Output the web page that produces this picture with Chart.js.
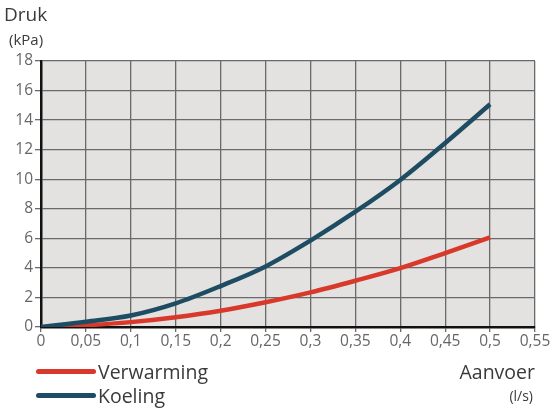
<!DOCTYPE html>
<html>
<head>
<meta charset="utf-8">
<script src="https://cdn.jsdelivr.net/npm/chart.js@4"></script>
<style>
  html, body { margin: 0; padding: 0; background: #fff; }
  #wrap { position: relative; width: 554px; height: 410px; font-family: "Open Sans", sans-serif; color: #3a3a3a; }
  canvas { position: absolute; left: 0; top: 0; }
  .lbl { position: absolute; white-space: nowrap; line-height: 1; }
  .legend-item { position: absolute; left: 36px; font-size: 19.5px; line-height: 1; display: flex; align-items: center; }
  .legend-item span.sw { display: inline-block; width: 60px; height: 5px; border-radius: 3px; margin-right: 2px; }
</style>
</head>
<body>
<div id="wrap">
  <canvas id="chart" width="554" height="410"></canvas>
  <div class="lbl" style="left:4px; top:5px; font-size:19px;">Druk</div>
  <div class="lbl" style="left:9px; top:32px; font-size:15px;">(kPa)</div>
  <div class="lbl" style="right:19px; top:362px; font-size:19.5px;">Aanvoer</div>
  <div class="lbl" style="right:21px; top:389px; font-size:14px;">(l/s)</div>
  <div class="legend-item" style="top:362px;"><span class="sw" style="background:#d8392b"></span>Verwarming</div>
  <div class="legend-item" style="top:386px;"><span class="sw" style="background:#1e4d63"></span>Koeling</div>
</div>
<script>
// flow rate (l/s) and pressure drop (kPa)
const aanvoer = [0, 0.05, 0.1, 0.15, 0.2, 0.25, 0.3, 0.35, 0.4, 0.45, 0.5];
const verwarming = [0, 0.12, 0.33, 0.66, 1.1, 1.67, 2.34, 3.13, 3.98, 5.0, 6.06];
const koeling = [0, 0.36, 0.78, 1.6, 2.77, 4.1, 5.85, 7.8, 9.95, 12.45, 15.07];
const xTicks = [0, 0.05, 0.1, 0.15, 0.2, 0.25, 0.3, 0.35, 0.4, 0.45, 0.5, 0.55];
const yTicks = [0, 2, 4, 6, 8, 10, 12, 14, 16, 18];

const toPoints = (vals) => vals.map((v, i) => ({ x: aanvoer[i], y: v }));

const plotBg = {
  id: 'plotBg',
  beforeDraw(chart) {
    const { ctx, chartArea: a } = chart;
    ctx.save();
    ctx.fillStyle = '#e4e2e0';
    ctx.fillRect(a.left, a.top, a.right - a.left, a.bottom - a.top);
    ctx.restore();
  },
};

new Chart(document.getElementById('chart'), {
  type: 'line',
  data: {
    datasets: [
      {
        label: 'Verwarming',
        data: toPoints(verwarming),
        borderColor: '#d8392b',
        borderWidth: 4.5,
        pointRadius: 0,
        cubicInterpolationMode: 'monotone',
        order: 2,
      },
      {
        label: 'Koeling',
        data: toPoints(koeling),
        borderColor: '#1e4d63',
        borderWidth: 4.5,
        pointRadius: 0,
        cubicInterpolationMode: 'monotone',
        order: 1,
      },
    ],
  },
  options: {
    responsive: false,
    animation: false,
    layout: { padding: { top: 61, right: 19, left: 0, bottom: 0 } },
    plugins: { legend: { display: false }, tooltip: { enabled: false } },
    scales: {
      x: {
        type: 'linear',
        min: 0,
        max: 0.55,
        afterFit: (s) => { s.height = 83; },
        afterBuildTicks: (s) => {
          s.ticks = xTicks.map((v) => ({ value: v }));
        },
        ticks: {
          color: '#666',
          font: { family: 'Open Sans', size: 15.5 },
          padding: 0,
          maxRotation: 0,
          autoSkip: false,
          callback: (v) => String(parseFloat(Number(v).toFixed(2))).replace('.', ','),
        },
        grid: { color: '#6a6a6a', lineWidth: 1.3, tickLength: 5 },
        border: { color: '#111', width: 2.5 },
      },
      y: {
        min: 0,
        max: 18,
        afterFit: (s) => { s.width = 41; },
        afterBuildTicks: (s) => {
          s.ticks = yTicks.map((v) => ({ value: v }));
        },
        ticks: {
          color: '#666',
          font: { family: 'Open Sans', size: 15.5 },
          padding: 2,
        },
        grid: { color: '#6a6a6a', lineWidth: 1.3, tickLength: 6 },
        border: { color: '#111', width: 2.5 },
      },
    },
  },
  plugins: [plotBg],
});
</script>
</body>
</html>
